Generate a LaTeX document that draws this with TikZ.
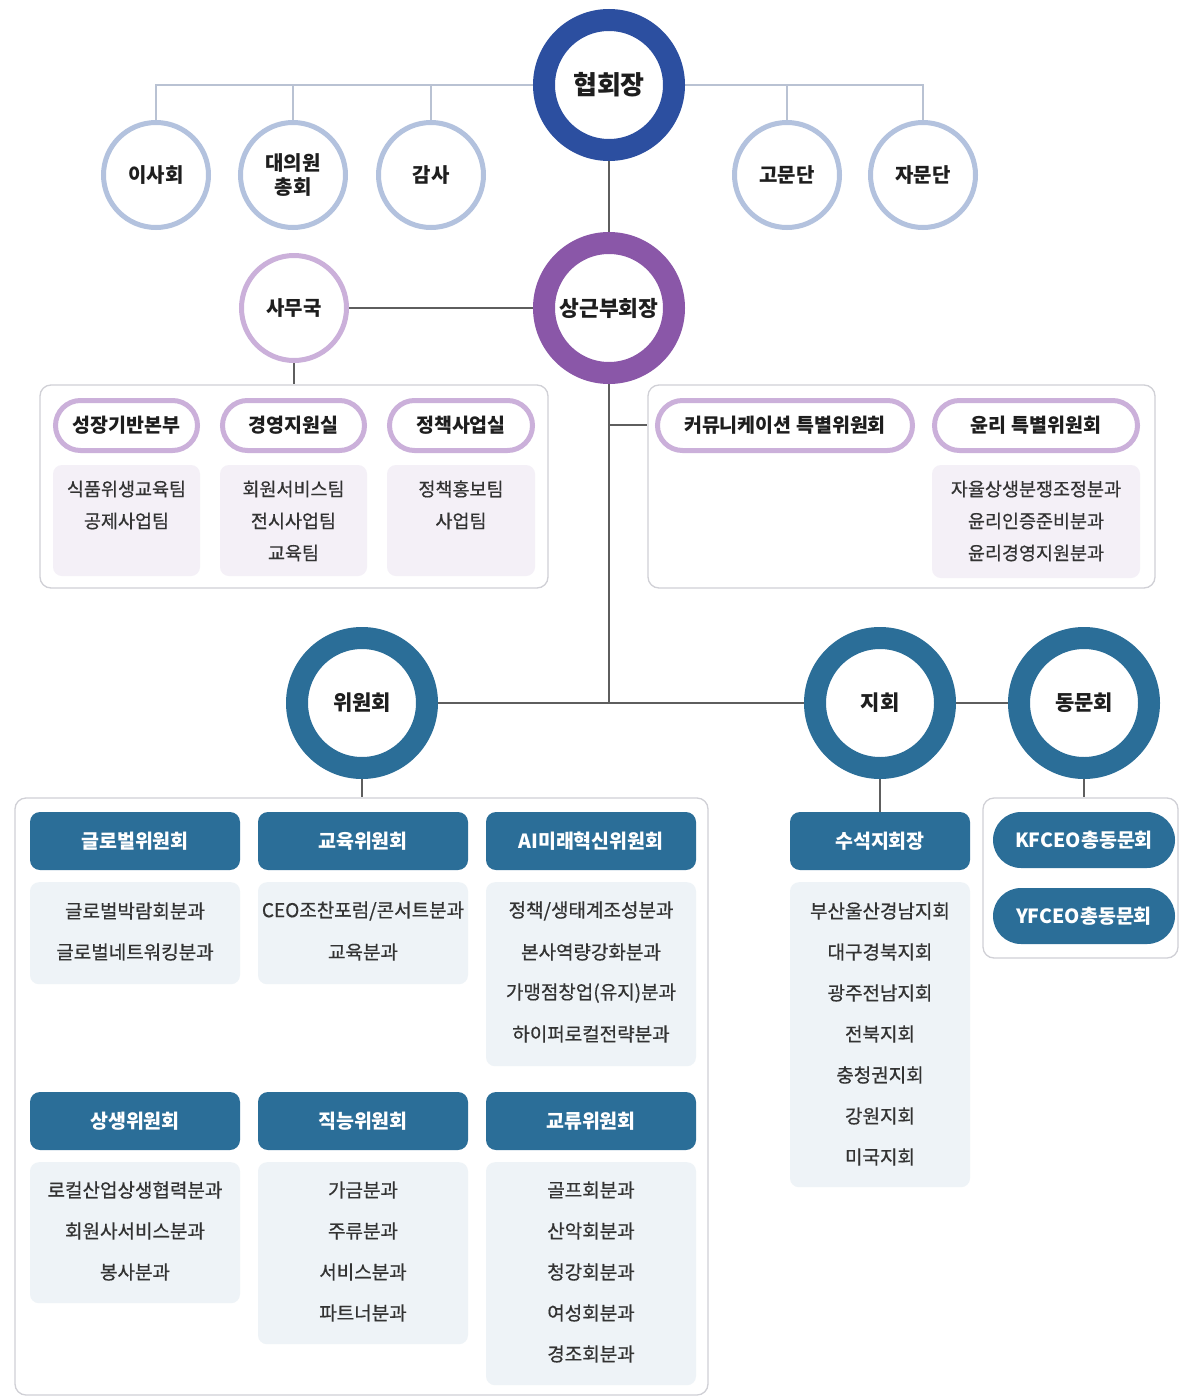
\documentclass[tikz,border=0pt]{standalone}
\usepackage{fontspec}
\newfontfamily\kr{Noto Sans CJK KR}
\newfontfamily\krm[FakeBold=0.6]{Noto Sans CJK KR}
\usetikzlibrary{backgrounds}
\definecolor{navy}{HTML}{2C4FA0}
\definecolor{purp}{HTML}{8A57A8}
\definecolor{tealb}{HTML}{2B6E98}
\definecolor{ringblue}{HTML}{B3C2DE}
\definecolor{lpurp}{HTML}{CBB0DA}
\definecolor{lavfill}{HTML}{F4F0F7}
\definecolor{bluefill}{HTML}{EEF3F7}
\definecolor{lineg}{HTML}{5E5E5E}
\definecolor{linel}{HTML}{B9C2D3}
\definecolor{boxg}{HTML}{D0D0D6}
\definecolor{txt}{HTML}{1E1E1E}
\definecolor{subtxt}{HTML}{333333}
\begin{document}
\begin{tikzpicture}[x=1pt,y=-1pt,
 bigring/.style={circle,draw=#1,line width=22pt,fill=white,minimum size=130pt,inner sep=0pt,text=txt,font=\kr\bfseries\fontsize{21}{24}\selectfont},
 smallring/.style={circle,draw=#1,line width=5pt,fill=white,minimum size=105pt,inner sep=0pt,text=txt,align=center,font=\kr\bfseries\fontsize{20}{24}\selectfont},
 pill/.style={rectangle,rounded corners=25pt,draw=lpurp,line width=5pt,fill=white,minimum height=50pt,inner sep=0pt,text=txt,font=\kr\bfseries\fontsize{19.5}{22}\selectfont},
 lavbox/.style={rectangle,rounded corners=9pt,fill=lavfill,inner sep=0pt},
 bluebox/.style={rectangle,rounded corners=9pt,fill=bluefill,inner sep=0pt},
 grpbox/.style={rectangle,rounded corners=11pt,draw=boxg,line width=1.3pt,fill=white,inner sep=0pt},
 header/.style={rectangle,rounded corners=10pt,fill=tealb,minimum height=58pt,inner sep=0pt,text=white,font=\kr\bfseries\fontsize{19.5}{22}\selectfont},
 tpill/.style={rectangle,rounded corners=28pt,fill=tealb,minimum width=182pt,minimum height=56pt,inner sep=0pt,text=white,font=\kr\bfseries\fontsize{19.5}{22}\selectfont},
 subt/.style={text=subtxt,inner sep=0pt,font=\krm\fontsize{18.5}{22}\selectfont},
 subb/.style={text=subtxt,inner sep=0pt,font=\krm\fontsize{19}{22}\selectfont},
 conn/.style={draw=lineg,line width=2.4pt},
 connl/.style={draw=linel,line width=2.4pt},
]
\useasboundingbox (0,0) rectangle (1181,1400);

% ---------- top level ----------
\node[bigring=navy,font=\kr\bfseries\fontsize{26}{30}\selectfont] (hyp) at (609,85) {협회장};
\node[smallring=ringblue] (isa) at (156,175) {이사회};
\node[smallring=ringblue] (dae) at (293,175) {대의원\\총회};
\node[smallring=ringblue] (gam) at (431,175) {감사};
\node[smallring=ringblue] (gom) at (787,175) {고문단};
\node[smallring=ringblue] (jam) at (923,175) {자문단};

\node[bigring=purp,font=\kr\bfseries\fontsize{21.5}{25}\selectfont] (sang) at (609,308) {상근부회장};
\node[smallring=lpurp] (samu) at (294,308) {사무국};

% ---------- secretariat group ----------
\node[grpbox,minimum width=508pt,minimum height=203pt] (lbox) at (294,486.5) {};
\node[pill,minimum width=142pt] (p1) at (126.5,425.5) {성장기반본부};
\node[pill,minimum width=142pt] (p2) at (293.5,425.5) {경영지원실};
\node[pill,minimum width=143pt] (p3) at (461,425.5) {정책사업실};
\node[lavbox,minimum width=147pt,minimum height=111pt] (s1) at (126.5,520.5) {};
\node[lavbox,minimum width=147pt,minimum height=111pt] (s2) at (293.5,520.5) {};
\node[lavbox,minimum width=148pt,minimum height=111pt] (s3) at (461,520.5) {};
\foreach \t [count=\i] in {식품위생교육팀,공제사업팀}
  \node[subt] (s1-\i) at (126.5,{489+(\i-1)*32}) {\t};
\foreach \t [count=\i] in {회원서비스팀,전시사업팀,교육팀}
  \node[subt] (s2-\i) at (293.5,{489+(\i-1)*32}) {\t};
\foreach \t [count=\i] in {정책홍보팀,사업팀}
  \node[subt] (s3-\i) at (461,{489+(\i-1)*32}) {\t};

% ---------- special committees group ----------
\node[grpbox,minimum width=507pt,minimum height=203pt] (rbox) at (901.5,486.5) {};
\node[pill,minimum width=255pt] (p4) at (785,425.5) {커뮤니케이션 특별위원회};
\node[pill,minimum width=203pt] (p5) at (1036,425.5) {윤리 특별위원회};
\node[lavbox,minimum width=208pt,minimum height=113pt] (s5) at (1036,521.5) {};
\foreach \t [count=\i] in {자율상생분쟁조정분과,윤리인증준비분과,윤리경영지원분과}
  \node[subt] (s5-\i) at (1036,{489+(\i-1)*32}) {\t};

% ---------- lower circles ----------
\node[bigring=tealb] (wiwon) at (362,703) {위원회};
\node[bigring=tealb] (jihoe) at (880,703) {지회};
\node[bigring=tealb] (dong) at (1084,703) {동문회};

% ---------- committees group ----------
\node[grpbox,minimum width=693pt,minimum height=597pt] (bbox) at (361.5,1096.5) {};
\node[header,minimum width=210pt] (h1) at (135,841) {글로벌위원회};
\node[header,minimum width=210pt] (h2) at (363,841) {교육위원회};
\node[header,minimum width=210pt] (h3) at (591,841) {AI미래혁신위원회};
\node[header,minimum width=210pt] (h4) at (135,1121) {상생위원회};
\node[header,minimum width=210pt] (h5) at (363,1121) {직능위원회};
\node[header,minimum width=210pt] (h6) at (591,1121) {교류위원회};

\node[bluebox,minimum width=210pt,minimum height=102pt,anchor=north] (b1) at (135,882) {};
\node[bluebox,minimum width=210pt,minimum height=102pt,anchor=north] (b2) at (363,882) {};
\node[bluebox,minimum width=210pt,minimum height=184pt,anchor=north] (b3) at (591,882) {};
\node[bluebox,minimum width=210pt,minimum height=141pt,anchor=north] (b4) at (135,1162) {};
\node[bluebox,minimum width=210pt,minimum height=182pt,anchor=north] (b5) at (363,1162) {};
\node[bluebox,minimum width=210pt,minimum height=223pt,anchor=north] (b6) at (591,1162) {};

\foreach \t [count=\i] in {글로벌박람회분과,글로벌네트워킹분과}
  \node[subb] (b1-\i) at (135,{911+(\i-1)*41}) {\t};
\foreach \t [count=\i] in {CEO조찬포럼/콘서트분과,교육분과}
  \node[subb] (b2-\i) at (363,{911+(\i-1)*41}) {\t};
\foreach \t [count=\i] in {정책/생태계조성분과,본사역량강화분과,가맹점창업(유지)분과,하이퍼로컬전략분과}
  \node[subb] (b3-\i) at (591,{911+(\i-1)*41}) {\t};
\foreach \t [count=\i] in {로컬산업상생협력분과,회원사서비스분과,봉사분과}
  \node[subb] (b4-\i) at (135,{1190+(\i-1)*41}) {\t};
\foreach \t [count=\i] in {가금분과,주류분과,서비스분과,파트너분과}
  \node[subb] (b5-\i) at (363,{1190+(\i-1)*41}) {\t};
\foreach \t [count=\i] in {골프회분과,산악회분과,청강회분과,여성회분과,경조회분과}
  \node[subb] (b6-\i) at (591,{1190+(\i-1)*41}) {\t};

% ---------- branches ----------
\node[header,minimum width=180pt] (hs) at (880,841) {수석지회장};
\node[bluebox,minimum width=180pt,minimum height=305pt,anchor=north] (bs) at (880,882) {};
\foreach \t [count=\i] in {부산울산경남지회,대구경북지회,광주전남지회,전북지회,충청권지회,강원지회,미국지회}
  \node[subb] (bs-\i) at (880,{911+(\i-1)*41}) {\t};

% ---------- alumni ----------
\node[grpbox,minimum width=195pt,minimum height=160pt] (dbox) at (1080.5,878) {};
\node[tpill] (kf) at (1084,840) {KFCEO총동문회};
\node[tpill] (yf) at (1084,916) {YFCEO총동문회};

% ---------- connectors ----------
\begin{pgfonlayer}{background}
\fill[white] (0,0) rectangle (1181,1400);
\draw[connl] (isa.north) |- (hyp.center);
\draw[connl] (dae.north) |- (hyp.center);
\draw[connl] (gam.north) |- (hyp.center);
\draw[connl] (gom.north) |- (hyp.center);
\draw[connl] (jam.north) |- (hyp.center);
\draw[conn] (hyp) -- (sang);
\draw[conn] (samu) -- (sang);
\draw[conn] (samu.south) -- (lbox.north);
\coordinate (rj) at (609,425);
\draw[conn] (rj) -- (rbox.west |- rj);
\draw[conn] (sang.south) -- (sang.south |- wiwon.center);
\draw[conn] (wiwon) -- (jihoe);
\draw[conn] (jihoe) -- (dong);
\draw[conn] (wiwon.south) -- (wiwon.south |- bbox.north);
\draw[conn] (jihoe.south) -- (hs.north);
\draw[conn] (dong.south) -- (dong.south |- dbox.north);
\end{pgfonlayer}
\end{tikzpicture}
\end{document}
